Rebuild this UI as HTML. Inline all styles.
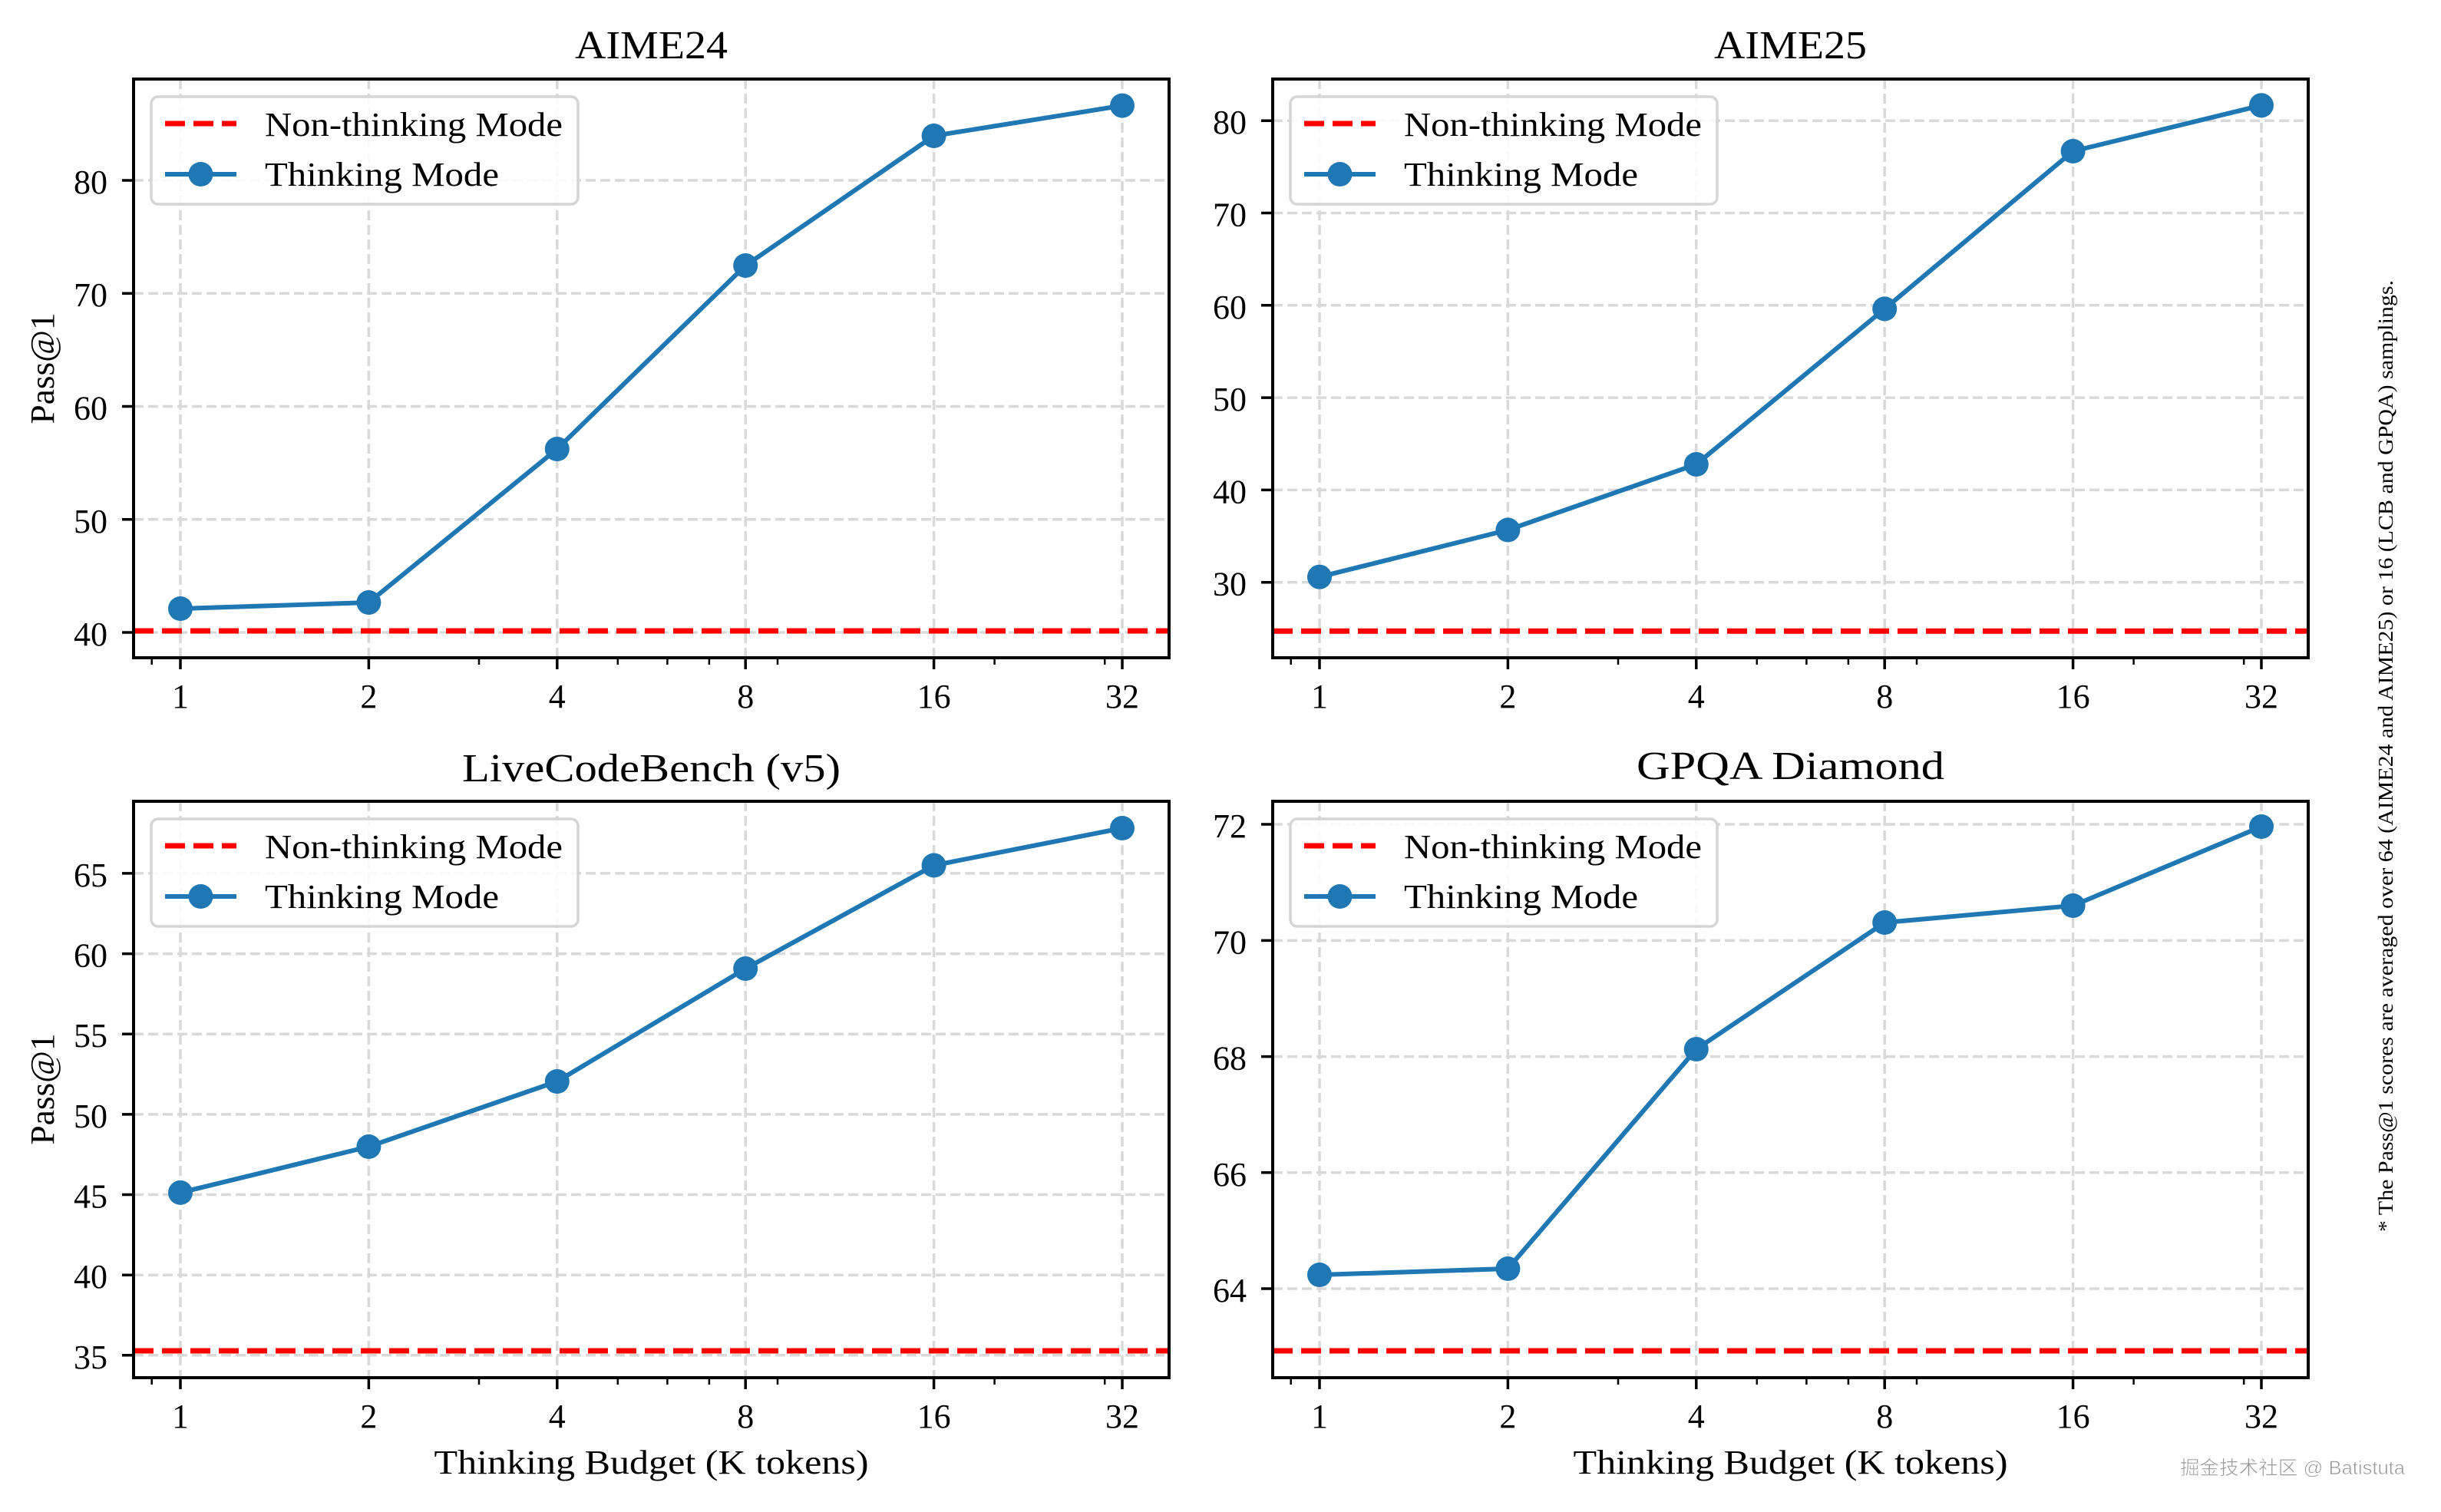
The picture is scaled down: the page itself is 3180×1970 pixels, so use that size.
<!DOCTYPE html>
<html><head><meta charset="utf-8"><style>
html,body{margin:0;padding:0;background:#fff}
svg{display:block}
text{font-family:"Liberation Serif",serif;fill:#000}
.g{stroke:#d9d9d9;stroke-width:3.5;stroke-dasharray:13 6;fill:none}
.sp{fill:none;stroke:#000;stroke-width:4}
.tk{stroke:#000;stroke-width:3.5}
.mt{stroke:#000;stroke-width:2.5}
.red{stroke:#ff0000;stroke-width:7;stroke-dasharray:26 11;fill:none}
.bl{stroke:#1f77b4;stroke-width:6;fill:none;stroke-linejoin:round}
.mk{fill:#1f77b4}
.tl{font-size:44px}
.yl{font-size:44px;text-anchor:end}
.xl{font-size:44px;text-anchor:middle}
.ttl{font-size:52px;text-anchor:middle}
.lg{fill:#fff;fill-opacity:0.85;stroke:#d5d5d5;stroke-width:3.5}
</style></head><body>
<svg width="3180" height="1970" viewBox="0 0 3180 1970" xmlns="http://www.w3.org/2000/svg">
<defs>
<clipPath id="c1"><rect x="174" y="103" width="1349" height="754"/></clipPath>
<clipPath id="c2"><rect x="1658" y="103" width="1349" height="754"/></clipPath>
<clipPath id="c3"><rect x="174" y="1044" width="1349" height="751"/></clipPath>
<clipPath id="c4"><rect x="1658" y="1044" width="1349" height="751"/></clipPath>
</defs>

<!-- ========== Panel 1: AIME24 ========== -->
<g clip-path="url(#c1)">
<path class="g" d="M235 103V857M480.4 103V857M725.8 103V857M971.2 103V857M1216.6 103V857M1462 103V857"/>
<path class="g" d="M174 824H1523M174 676.75H1523M174 529.5H1523M174 382.25H1523M174 235H1523"/>
<path class="red" d="M174 822H1523"/>
<polyline class="bl" points="235,793 480.4,785 725.8,585 971.2,346 1216.6,177 1462,137.6"/>
<circle class="mk" cx="235" cy="793" r="16"/><circle class="mk" cx="480.4" cy="785" r="16"/><circle class="mk" cx="725.8" cy="585" r="16"/><circle class="mk" cx="971.2" cy="346" r="16"/><circle class="mk" cx="1216.6" cy="177" r="16"/><circle class="mk" cx="1462" cy="137.6" r="16"/>
</g>
<rect class="sp" x="174" y="103" width="1349" height="754"/>
<path class="tk" d="M235 857v15M480.4 857v15M725.8 857v15M971.2 857v15M1216.6 857v15M1462 857v15"/>
<path class="mt" d="M197.7 857v9M624 857v9M804.8 857v9M869.4 857v9M923.9 857v9M1013 857v9M1295.6 857v9M1439.2 857v9"/>
<path class="tk" d="M174 824h-15M174 676.75h-15M174 529.5h-15M174 382.25h-15M174 235h-15"/>
<text class="yl" x="140" y="841">40</text><text class="yl" x="140" y="694">50</text><text class="yl" x="140" y="546.5">60</text><text class="yl" x="140" y="399">70</text><text class="yl" x="140" y="252">80</text>
<text class="xl" x="235" y="922">1</text><text class="xl" x="480.4" y="922">2</text><text class="xl" x="725.8" y="922">4</text><text class="xl" x="971.2" y="922">8</text><text class="xl" x="1216.6" y="922">16</text><text class="xl" x="1462" y="922">32</text>
<text class="ttl" x="848.5" y="76" textLength="199" lengthAdjust="spacingAndGlyphs">AIME24</text>
<text class="tl" transform="translate(70,480) rotate(-90)" text-anchor="middle" textLength="145" lengthAdjust="spacingAndGlyphs">Pass@1</text>
<rect class="lg" x="197" y="126" width="556" height="140" rx="9"/>
<path class="red" d="M215 161H308" stroke-dasharray="26 8"/>
<path class="bl" d="M215 227H308"/><circle class="mk" cx="261.5" cy="227" r="16"/>
<text class="tl" x="345" y="177" textLength="388" lengthAdjust="spacingAndGlyphs">Non-thinking Mode</text>
<text class="tl" x="345" y="242" textLength="305" lengthAdjust="spacingAndGlyphs">Thinking Mode</text>

<!-- ========== Panel 2: AIME25 ========== -->
<g clip-path="url(#c2)">
<path class="g" d="M1719 103V857M1964.4 103V857M2209.8 103V857M2455.2 103V857M2700.6 103V857M2946 103V857"/>
<path class="g" d="M1658 758.7H3007M1658 638.4H3007M1658 518.1H3007M1658 397.8H3007M1658 277.5H3007M1658 157.2H3007"/>
<path class="red" d="M1658 822.3H3007"/>
<polyline class="bl" points="1719,751.7 1964.4,690.5 2209.8,605 2455.2,402.4 2700.6,197 2946,137.3"/>
<circle class="mk" cx="1719" cy="751.7" r="16"/><circle class="mk" cx="1964.4" cy="690.5" r="16"/><circle class="mk" cx="2209.8" cy="605" r="16"/><circle class="mk" cx="2455.2" cy="402.4" r="16"/><circle class="mk" cx="2700.6" cy="197" r="16"/><circle class="mk" cx="2946" cy="137.3" r="16"/>
</g>
<rect class="sp" x="1658" y="103" width="1349" height="754"/>
<path class="tk" d="M1719 857v15M1964.4 857v15M2209.8 857v15M2455.2 857v15M2700.6 857v15M2946 857v15"/>
<path class="mt" d="M1681.7 857v9M2108 857v9M2288.8 857v9M2353.4 857v9M2407.9 857v9M2497 857v9M2779.6 857v9M2923.2 857v9"/>
<path class="tk" d="M1658 758.7h-15M1658 638.4h-15M1658 518.1h-15M1658 397.8h-15M1658 277.5h-15M1658 157.2h-15"/>
<text class="yl" x="1624" y="775.7">30</text><text class="yl" x="1624" y="655.4">40</text><text class="yl" x="1624" y="535.1">50</text><text class="yl" x="1624" y="414.8">60</text><text class="yl" x="1624" y="294.5">70</text><text class="yl" x="1624" y="174.2">80</text>
<text class="xl" x="1719" y="922">1</text><text class="xl" x="1964.4" y="922">2</text><text class="xl" x="2209.8" y="922">4</text><text class="xl" x="2455.2" y="922">8</text><text class="xl" x="2700.6" y="922">16</text><text class="xl" x="2946" y="922">32</text>
<text class="ttl" x="2332.5" y="76" textLength="199" lengthAdjust="spacingAndGlyphs">AIME25</text>
<rect class="lg" x="1681" y="126" width="556" height="140" rx="9"/>
<path class="red" d="M1699 161H1792" stroke-dasharray="26 8"/>
<path class="bl" d="M1699 227H1792"/><circle class="mk" cx="1745.5" cy="227" r="16"/>
<text class="tl" x="1829" y="177" textLength="388" lengthAdjust="spacingAndGlyphs">Non-thinking Mode</text>
<text class="tl" x="1829" y="242" textLength="305" lengthAdjust="spacingAndGlyphs">Thinking Mode</text>

<!-- ========== Panel 3: LiveCodeBench ========== -->
<g clip-path="url(#c3)">
<path class="g" d="M235 1044V1795M480.4 1044V1795M725.8 1044V1795M971.2 1044V1795M1216.6 1044V1795M1462 1044V1795"/>
<path class="g" d="M174 1765.8H1523M174 1661.2H1523M174 1556.5H1523M174 1451.9H1523M174 1347.2H1523M174 1242.6H1523M174 1137.9H1523"/>
<path class="red" d="M174 1760H1523"/>
<polyline class="bl" points="235,1553.9 480.4,1494 725.8,1409 971.2,1262 1216.6,1127.5 1462,1079"/>
<circle class="mk" cx="235" cy="1553.9" r="16"/><circle class="mk" cx="480.4" cy="1494" r="16"/><circle class="mk" cx="725.8" cy="1409" r="16"/><circle class="mk" cx="971.2" cy="1262" r="16"/><circle class="mk" cx="1216.6" cy="1127.5" r="16"/><circle class="mk" cx="1462" cy="1079" r="16"/>
</g>
<rect class="sp" x="174" y="1044" width="1349" height="751"/>
<path class="tk" d="M235 1795v15M480.4 1795v15M725.8 1795v15M971.2 1795v15M1216.6 1795v15M1462 1795v15"/>
<path class="mt" d="M197.7 1795v9M624 1795v9M804.8 1795v9M869.4 1795v9M923.9 1795v9M1013 1795v9M1295.6 1795v9M1439.2 1795v9"/>
<path class="tk" d="M174 1765.8h-15M174 1661.2h-15M174 1556.5h-15M174 1451.9h-15M174 1347.2h-15M174 1242.6h-15M174 1137.9h-15"/>
<text class="yl" x="140" y="1782.8">35</text><text class="yl" x="140" y="1678.2">40</text><text class="yl" x="140" y="1573.5">45</text><text class="yl" x="140" y="1468.9">50</text><text class="yl" x="140" y="1364.2">55</text><text class="yl" x="140" y="1259.6">60</text><text class="yl" x="140" y="1154.9">65</text>
<text class="xl" x="235" y="1860">1</text><text class="xl" x="480.4" y="1860">2</text><text class="xl" x="725.8" y="1860">4</text><text class="xl" x="971.2" y="1860">8</text><text class="xl" x="1216.6" y="1860">16</text><text class="xl" x="1462" y="1860">32</text>
<text class="ttl" x="848.5" y="1018" textLength="493" lengthAdjust="spacingAndGlyphs">LiveCodeBench (v5)</text>
<text class="tl" x="848.5" y="1920" text-anchor="middle" textLength="566" lengthAdjust="spacingAndGlyphs">Thinking Budget (K tokens)</text>
<text class="tl" transform="translate(70,1419) rotate(-90)" text-anchor="middle" textLength="145" lengthAdjust="spacingAndGlyphs">Pass@1</text>
<rect class="lg" x="197" y="1067" width="556" height="140" rx="9"/>
<path class="red" d="M215 1102H308" stroke-dasharray="26 8"/>
<path class="bl" d="M215 1168H308"/><circle class="mk" cx="261.5" cy="1168" r="16"/>
<text class="tl" x="345" y="1118" textLength="388" lengthAdjust="spacingAndGlyphs">Non-thinking Mode</text>
<text class="tl" x="345" y="1183" textLength="305" lengthAdjust="spacingAndGlyphs">Thinking Mode</text>

<!-- ========== Panel 4: GPQA Diamond ========== -->
<g clip-path="url(#c4)">
<path class="g" d="M1719 1044V1795M1964.4 1044V1795M2209.8 1044V1795M2455.2 1044V1795M2700.6 1044V1795M2946 1044V1795"/>
<path class="g" d="M1658 1679H3007M1658 1527.8H3007M1658 1376.6H3007M1658 1225.4H3007M1658 1074H3007"/>
<path class="red" d="M1658 1760H3007"/>
<polyline class="bl" points="1719,1661 1964.4,1653 2209.8,1367 2455.2,1202 2700.6,1180 2946,1077"/>
<circle class="mk" cx="1719" cy="1661" r="16"/><circle class="mk" cx="1964.4" cy="1653" r="16"/><circle class="mk" cx="2209.8" cy="1367" r="16"/><circle class="mk" cx="2455.2" cy="1202" r="16"/><circle class="mk" cx="2700.6" cy="1180" r="16"/><circle class="mk" cx="2946" cy="1077" r="16"/>
</g>
<rect class="sp" x="1658" y="1044" width="1349" height="751"/>
<path class="tk" d="M1719 1795v15M1964.4 1795v15M2209.8 1795v15M2455.2 1795v15M2700.6 1795v15M2946 1795v15"/>
<path class="mt" d="M1681.7 1795v9M2108 1795v9M2288.8 1795v9M2353.4 1795v9M2407.9 1795v9M2497 1795v9M2779.6 1795v9M2923.2 1795v9"/>
<path class="tk" d="M1658 1679h-15M1658 1527.8h-15M1658 1376.6h-15M1658 1225.4h-15M1658 1074h-15"/>
<text class="yl" x="1624" y="1696">64</text><text class="yl" x="1624" y="1544.8">66</text><text class="yl" x="1624" y="1393.6">68</text><text class="yl" x="1624" y="1242.4">70</text><text class="yl" x="1624" y="1091">72</text>
<text class="xl" x="1719" y="1860">1</text><text class="xl" x="1964.4" y="1860">2</text><text class="xl" x="2209.8" y="1860">4</text><text class="xl" x="2455.2" y="1860">8</text><text class="xl" x="2700.6" y="1860">16</text><text class="xl" x="2946" y="1860">32</text>
<text class="ttl" x="2332.5" y="1015" textLength="401" lengthAdjust="spacingAndGlyphs">GPQA Diamond</text>
<text class="tl" x="2332.5" y="1920" text-anchor="middle" textLength="566" lengthAdjust="spacingAndGlyphs">Thinking Budget (K tokens)</text>
<rect class="lg" x="1681" y="1067" width="556" height="140" rx="9"/>
<path class="red" d="M1699 1102H1792" stroke-dasharray="26 8"/>
<path class="bl" d="M1699 1168H1792"/><circle class="mk" cx="1745.5" cy="1168" r="16"/>
<text class="tl" x="1829" y="1118" textLength="388" lengthAdjust="spacingAndGlyphs">Non-thinking Mode</text>
<text class="tl" x="1829" y="1183" textLength="305" lengthAdjust="spacingAndGlyphs">Thinking Mode</text>

<!-- side note -->
<text transform="translate(3117,1605) rotate(-90)" style="font-size:27px" textLength="1240" lengthAdjust="spacingAndGlyphs">* The Pass@1 scores are averaged over 64 (AIME24 and AIME25) or 16 (LCB and GPQA) samplings.</text>

<!-- watermark -->
<text x="2840" y="1921" style="font-family:'Liberation Sans','Noto Sans CJK SC',sans-serif;font-size:25px;fill:#9a9a9a;stroke:#fff;stroke-width:0.6" textLength="293" lengthAdjust="spacingAndGlyphs">掘金技术社区 @ Batistuta</text>
</svg>
</body></html>
